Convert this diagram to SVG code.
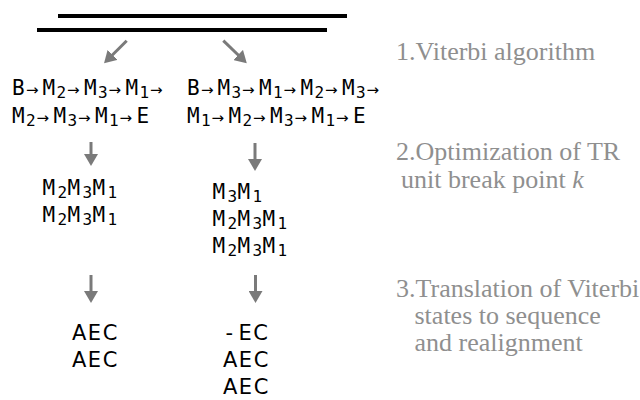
<svg xmlns="http://www.w3.org/2000/svg" width="640" height="400" viewBox="0 0 640 400">
<style>
.seq{font-family:"DejaVu Sans Mono",monospace;font-size:21px;fill:#000}
.sub{font-size:16px}
.ar{font-family:"DejaVu Sans",sans-serif;font-size:15px}
.aec{font-family:"DejaVu Sans",sans-serif;font-size:21px;fill:#000;letter-spacing:1.5px}
.lbl{font-family:"Liberation Serif",serif;font-size:26px;fill:#8f8f8f}
.bar{stroke:#000;stroke-width:4}
.con{stroke:#7a7a7a;stroke-width:3;fill:none;marker-end:url(#ah)}
</style>
<defs>
<marker id="ah" markerUnits="userSpaceOnUse" markerWidth="13" markerHeight="14" refX="3" refY="7" orient="auto">
<path d="M0,0 L12,7 L0,14 z" fill="#7a7a7a"/>
</marker>
</defs>
<g id="bars">
<line class="bar" x1="58" y1="16" x2="347" y2="16"/>
<line class="bar" x1="37" y1="30" x2="327" y2="30"/>
</g>
<g id="connectors">
<line class="con" x1="126.7" y1="40.7" x2="110.4" y2="57"/>
<line class="con" x1="223.3" y1="40.7" x2="240.3" y2="57"/>
<line class="con" x1="91" y1="142" x2="91" y2="157"/>
<line class="con" x1="255" y1="143" x2="255" y2="162"/>
<line class="con" x1="91" y1="275" x2="91" y2="294"/>
<line class="con" x1="255.5" y1="275" x2="255.5" y2="294"/>
</g>
<g id="viterbi-left">
<text class="seq" y="95"><tspan x="12">B</tspan><tspan class="ar" x="26">→</tspan><tspan x="42.5">M</tspan><tspan class="sub" x="56.5" y="97.5">2</tspan><tspan class="ar" x="67" y="95">→</tspan><tspan x="84">M</tspan><tspan class="sub" x="98" y="97.5">3</tspan><tspan class="ar" x="108.5" y="95">→</tspan><tspan x="125.5">M</tspan><tspan class="sub" x="139.5" y="97.5">1</tspan><tspan class="ar" x="150" y="95">→</tspan></text>
<text class="seq" y="123"><tspan x="12">M</tspan><tspan class="sub" x="26" y="125.5">2</tspan><tspan class="ar" x="36.5" y="123">→</tspan><tspan x="53.5">M</tspan><tspan class="sub" x="67.5" y="125.5">3</tspan><tspan class="ar" x="78" y="123">→</tspan><tspan x="95">M</tspan><tspan class="sub" x="109" y="125.5">1</tspan><tspan class="ar" x="119.5" y="123">→</tspan><tspan x="136.5">E</tspan></text>
</g>
<g id="viterbi-right">
<text class="seq" y="95"><tspan x="187">B</tspan><tspan class="ar" x="201">→</tspan><tspan x="217.5">M</tspan><tspan class="sub" x="231.5" y="97.5">3</tspan><tspan class="ar" x="242" y="95">→</tspan><tspan x="259">M</tspan><tspan class="sub" x="273" y="97.5">1</tspan><tspan class="ar" x="283.5" y="95">→</tspan><tspan x="300.5">M</tspan><tspan class="sub" x="314.5" y="97.5">2</tspan><tspan class="ar" x="325" y="95">→</tspan><tspan x="342">M</tspan><tspan class="sub" x="356" y="97.5">3</tspan><tspan class="ar" x="366.5" y="95">→</tspan></text>
<text class="seq" y="123"><tspan x="187">M</tspan><tspan class="sub" x="201" y="125.5">1</tspan><tspan class="ar" x="211.5" y="123">→</tspan><tspan x="228.5">M</tspan><tspan class="sub" x="242.5" y="125.5">2</tspan><tspan class="ar" x="253" y="123">→</tspan><tspan x="270">M</tspan><tspan class="sub" x="284" y="125.5">3</tspan><tspan class="ar" x="294.5" y="123">→</tspan><tspan x="311.5">M</tspan><tspan class="sub" x="325.5" y="125.5">1</tspan><tspan class="ar" x="336" y="123">→</tspan><tspan x="353">E</tspan></text>
</g>
<g id="units-left">
<text class="seq" y="195"><tspan x="42.5">M</tspan><tspan class="sub" x="57.5" y="197.5">2</tspan><tspan x="67.5" y="195">M</tspan><tspan class="sub" x="82.5" y="197.5">3</tspan><tspan x="92.5" y="195">M</tspan><tspan class="sub" x="107.5" y="197.5">1</tspan></text>
<text class="seq" y="222"><tspan x="42.5">M</tspan><tspan class="sub" x="57.5" y="224.5">2</tspan><tspan x="67.5" y="222">M</tspan><tspan class="sub" x="82.5" y="224.5">3</tspan><tspan x="92.5" y="222">M</tspan><tspan class="sub" x="107.5" y="224.5">1</tspan></text>
</g>
<g id="units-right">
<text class="seq" y="199"><tspan x="212.5">M</tspan><tspan class="sub" x="227.5" y="201.5">3</tspan><tspan x="237.5" y="199">M</tspan><tspan class="sub" x="252.5" y="201.5">1</tspan></text>
<text class="seq" y="226"><tspan x="212.5">M</tspan><tspan class="sub" x="227.5" y="228.5">2</tspan><tspan x="237.5" y="226">M</tspan><tspan class="sub" x="252.5" y="228.5">3</tspan><tspan x="262.5" y="226">M</tspan><tspan class="sub" x="277.5" y="228.5">1</tspan></text>
<text class="seq" y="253"><tspan x="212.5">M</tspan><tspan class="sub" x="227.5" y="255.5">2</tspan><tspan x="237.5" y="253">M</tspan><tspan class="sub" x="252.5" y="255.5">3</tspan><tspan x="262.5" y="253">M</tspan><tspan class="sub" x="277.5" y="255.5">1</tspan></text>
</g>
<g id="seq-left">
<text class="aec" x="72" y="340">AEC</text>
<text class="aec" x="72" y="367">AEC</text>
</g>
<g id="seq-right">
<text class="aec" y="340"><tspan x="225.5">-</tspan><tspan x="238.5">EC</tspan></text>
<text class="aec" x="223" y="367">AEC</text>
<text class="aec" x="223" y="394">AEC</text>
</g>
<g id="step1"><text class="lbl" x="396" y="60">1.Viterbi algorithm</text></g>
<g id="step2">
<text class="lbl" x="396" y="160">2.Optimization of TR</text>
<text class="lbl" x="401" y="188">unit break point <tspan font-style="italic">k</tspan></text>
</g>
<g id="step3">
<text class="lbl" x="396" y="297">3.Translation of Viterbi</text>
<text class="lbl" x="414.5" y="324">states to sequence</text>
<text class="lbl" x="414.5" y="351">and realignment</text>
</g>
</svg>
